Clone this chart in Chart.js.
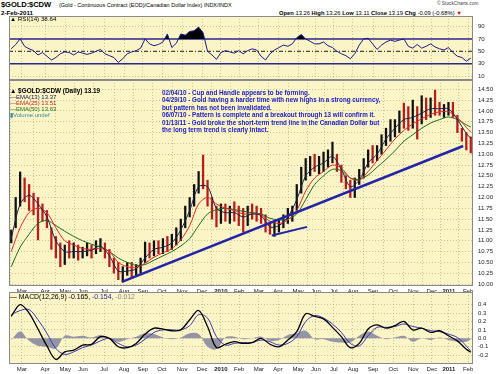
<!DOCTYPE html>
<html>
<head>
<meta charset="utf-8">
<script src="https://cdn.jsdelivr.net/npm/chart.js@4.4.1/dist/chart.umd.min.js"></script>
<style>
  body { margin: 0; background: #fff; width: 500px; height: 374px; overflow: hidden; position: relative; font-family: "Liberation Sans", Arial, sans-serif; }
  canvas { position: absolute; left: 0; }
  .t { position: absolute; white-space: nowrap; line-height: 1; }
  .b { font-weight: bold; }
</style>
</head>
<body>
<div class="t b" style="left:1px;top:1px;font-size:7.6px;letter-spacing:-0.1px;">$GOLD:$CDW</div>
<div class="t" style="left:59px;top:2.5px;font-size:5.5px;">(Gold - Continuous Contract (EOD)/Canadian Dollar Index) INDX/INDX</div>
<div class="t b" style="left:1px;top:10px;font-size:6.2px;">2-Feb-2011</div>
<div class="t" style="left:437px;top:2px;font-size:4.8px;color:#444;">&copy; StockCharts.com</div>
<div class="t" style="left:279px;top:10.5px;font-size:5.8px;"><b>Open</b> 13.26 <b>High</b> 13.26 <b>Low</b> 13.11 <b>Close</b> 13.19 <b>Chg</b> -0.09 (-0.68%) <span style="color:#c00">&#9660;</span></div>

<canvas id="rsi" width="500" height="64" style="top:16px"></canvas>
<canvas id="price" width="500" height="216" style="top:80px"></canvas>
<canvas id="macd" width="500" height="82" style="top:292px"></canvas>

<div class="t" style="left:10px;top:16px;font-size:6.2px;">&#9650; RSI(14) 38.64</div>
<div class="t b" style="left:10px;top:87.5px;font-size:6.4px;">&#9650; $GOLD:$CDW (Daily) 13.19</div>
<div class="t" style="left:10px;top:94px;font-size:6px;color:#202050;">&mdash;EMA(13) 13.37</div>
<div class="t" style="left:10px;top:100px;font-size:6px;color:#d02020;">&mdash;EMA(25) 13.51</div>
<div class="t" style="left:10px;top:106px;font-size:6px;color:#207020;">&mdash;EMA(50) 13.63</div>
<div class="t" style="left:10px;top:112px;font-size:6px;color:#3a8a9a;">&#9646;Volume undef</div>
<div class="t b" style="left:162px;top:88.5px;font-size:6.3px;color:#1a1ac8;line-height:7.6px;">
02/04/10 - Cup and Handle appears to be forming.<br>
04/29/10 - Gold having a harder time with new highs in a strong currency,<br>
but pattern has not been invalidated.<br>
06/07/10 - Pattern is complete and a breakout through 13 will confirm it.<br>
01/13/11 - Gold broke the short-term trend line in the Canadian Dollar but<br>
the long term trend is clearly intact.
</div>
<div class="t" style="left:10px;top:294px;font-size:6.9px;">&mdash; MACD(12,26,9) -0.165, <span style="color:#2a2aa0">-0.154,</span> <span style="color:#888">-0.012</span></div>

<script>
// x axis: weeks from mid-Feb 2009 (0) to early Feb 2011 (104)
const monthWeeks = [2.9, 8.1, 12.6, 16.6, 21.3, 25.8, 30.0, 34.3, 38.8, 43.3, 47.5, 51.6,
  56.0, 60.3, 64.8, 68.8, 72.8, 77.1, 81.6, 86.1, 90.6, 94.8, 98.6, 102.9];
const monthLabels = ["Mar", "Apr", "May", "Jun", "Jul", "Aug", "Sep", "Oct", "Nov", "Dec", "2010", "Feb",
  "Mar", "Apr", "May", "Jun", "Jul", "Aug", "Sep", "Oct", "Nov", "Dec", "2011", "Feb"];

// weekly price bars
const high = [
  11.25, 12.0, 12.59, 12.45, 12.3, 12.1, 12.0, 11.85, 11.7, 11.3,
  11.1, 10.95, 10.9, 11.0, 10.95, 10.9, 10.85, 10.95, 10.9, 11.0,
  11.05, 10.95, 10.8, 10.6, 10.5, 10.4, 10.5, 10.5, 10.45, 10.6,
  10.97, 10.95, 11.0, 11.0, 11.05, 11.1, 11.15, 11.3, 11.5, 11.8,
  12.0, 12.3, 12.6, 12.98, 12.4, 12.0, 11.8, 11.85, 11.85, 11.8,
  11.9, 11.8, 11.75, 11.8, 11.85, 11.8, 11.75, 11.6, 11.4, 11.45,
  11.5, 11.6, 11.75, 11.8, 12.3, 12.7, 12.9, 12.95, 13.0, 12.95,
  13.05, 13.1, 13.28, 13.0, 12.75, 12.5, 12.4, 12.45, 12.65, 12.9,
  13.1, 13.2, 13.2, 13.45, 13.6, 13.8, 13.8, 14.0, 14.18, 14.1,
  14.25, 14.1, 14.35, 14.3, 14.3, 14.48, 14.2, 14.15, 14.2, 14.2,
  13.9, 13.6, 13.5, 13.4];
const low = [
  10.95, 11.3, 11.8, 11.9, 11.7, 11.6, 11.02, 11.45, 11.3, 10.8,
  10.6, 10.4, 10.45, 10.6, 10.6, 10.55, 10.6, 10.65, 10.6, 10.7,
  10.75, 10.6, 10.4, 10.25, 10.1, 10.05, 10.2, 10.15, 10.2, 10.25,
  10.5, 10.6, 10.65, 10.7, 10.7, 10.75, 10.8, 10.9, 11.0, 11.3,
  11.55, 11.8, 12.1, 12.2, 11.8, 11.5, 11.32, 11.4, 11.45, 11.4,
  11.45, 11.35, 11.2, 11.35, 11.5, 11.45, 11.4, 11.2, 11.15, 11.1,
  11.2, 11.3, 11.4, 11.45, 11.7, 12.1, 12.4, 12.5, 12.6, 12.55,
  12.6, 12.7, 12.8, 12.6, 12.35, 12.2, 12.0, 12.0, 12.3, 12.45,
  12.7, 12.8, 12.85, 13.0, 13.2, 13.3, 13.4, 13.5, 13.6, 13.55,
  13.6, 13.35, 13.7, 13.8, 13.85, 13.9, 13.9, 13.85, 13.9, 13.85,
  13.5, 13.3, 13.1, 13.03];
const close = [
  11.2, 11.9, 12.3, 12.0, 11.9, 11.8, 11.7, 11.6, 11.4, 10.9,
  10.8, 10.5, 10.8, 10.7, 10.8, 10.7, 10.75, 10.8, 10.75, 10.9,
  10.9, 10.7, 10.5, 10.4, 10.2, 10.3, 10.4, 10.3, 10.4, 10.5,
  10.85, 10.8, 10.9, 10.8, 10.95, 10.9, 11.05, 11.2, 11.4, 11.7,
  11.9, 12.2, 12.5, 12.4, 11.9, 11.6, 11.5, 11.7, 11.6, 11.7,
  11.6, 11.5, 11.4, 11.7, 11.65, 11.6, 11.5, 11.3, 11.25, 11.3,
  11.4, 11.5, 11.6, 11.75, 12.2, 12.6, 12.7, 12.8, 12.7, 12.8,
  12.9, 13.0, 13.1, 12.7, 12.5, 12.3, 12.1, 12.35, 12.55, 12.8,
  13.0, 12.9, 13.1, 13.35, 13.5, 13.6, 13.7, 13.9, 13.8, 13.7,
  13.9, 13.6, 14.1, 14.0, 14.1, 14.05, 14.0, 14.0, 14.1, 13.9,
  13.6, 13.4, 13.3, 13.19];

// moving averages and MACD, sampled every second week
const lineWeeks = [0, 2, 4, 6, 8, 10, 12, 14, 16, 18, 20, 22, 24, 26, 28, 30, 32, 34, 36, 38,
  40, 42, 44, 46, 48, 50, 52, 54, 56, 58, 60, 62, 64, 66, 68, 70, 72, 74, 76, 78,
  80, 82, 84, 86, 88, 90, 92, 94, 96, 98, 100, 102, 103];
const ema13 = [11.05, 11.85, 12.05, 11.85, 11.55, 11.00, 10.75, 10.75, 10.75, 10.78,
  10.88, 10.65, 10.30, 10.30, 10.35, 10.60, 10.80, 10.85, 10.95, 11.25,
  11.70, 12.25, 12.25, 11.75, 11.65, 11.65, 11.55, 11.62, 11.58, 11.32,
  11.35, 11.55, 11.95, 12.50, 12.70, 12.80, 12.95, 12.65, 12.25, 12.40,
  12.80, 13.00, 13.35, 13.60, 13.80, 13.85, 13.95, 14.05, 14.05, 14.05,
  13.80, 13.48, 13.37];
const ema25 = [10.75, 11.30, 11.65, 11.75, 11.65, 11.30, 11.00, 10.90, 10.82, 10.80,
  10.82, 10.75, 10.50, 10.40, 10.38, 10.48, 10.62, 10.72, 10.82, 11.02,
  11.35, 11.85, 12.00, 11.85, 11.75, 11.70, 11.62, 11.62, 11.60, 11.45,
  11.40, 11.48, 11.70, 12.15, 12.45, 12.60, 12.75, 12.68, 12.45, 12.40,
  12.60, 12.85, 13.10, 13.35, 13.55, 13.70, 13.82, 13.92, 13.98, 13.98,
  13.85, 13.62, 13.51];
const ema50 = [10.40, 10.85, 11.15, 11.40, 11.47, 11.35, 11.22, 11.10, 11.00, 10.92,
  10.85, 10.75, 10.60, 10.50, 10.43, 10.45, 10.55, 10.65, 10.75, 10.88,
  11.05, 11.35, 11.62, 11.72, 11.75, 11.72, 11.68, 11.65, 11.62, 11.52,
  11.48, 11.50, 11.62, 11.95, 12.30, 12.50, 12.65, 12.62, 12.45, 12.42,
  12.52, 12.70, 12.88, 13.08, 13.30, 13.45, 13.60, 13.72, 13.80, 13.86,
  13.80, 13.68, 13.63];
const macd = [0.26, 0.40, 0.30, 0.11, -0.09, -0.25, -0.16, -0.14, -0.08, -0.07,
  0.02, 0.00, -0.10, -0.11, -0.06, 0.05, 0.12, 0.11, 0.09, 0.10,
  0.22, 0.33, 0.14, -0.11, -0.07, -0.04, -0.06, -0.05, 0.00, -0.07,
  -0.10, -0.02, 0.08, 0.29, 0.26, 0.23, 0.13, 0.02, -0.11, -0.06,
  0.11, 0.16, 0.12, 0.15, 0.20, 0.10, 0.12, 0.07, 0.09, 0.03,
  -0.03, -0.13, -0.165];
const signal = [0.28, 0.33, 0.34, 0.22, 0.06, -0.12, -0.19, -0.16, -0.11, -0.08,
  -0.03, 0.00, -0.06, -0.10, -0.08, -0.01, 0.07, 0.10, 0.10, 0.10,
  0.15, 0.28, 0.24, 0.02, -0.08, -0.06, -0.05, -0.05, -0.02, -0.04,
  -0.08, -0.06, 0.02, 0.20, 0.27, 0.24, 0.17, 0.07, -0.06, -0.09,
  0.03, 0.13, 0.13, 0.14, 0.17, 0.14, 0.12, 0.09, 0.08, 0.05,
  0.01, -0.09, -0.154];
const hist = [-0.02, 0.08, -0.03, -0.09, -0.10, -0.12, 0.03, 0.02, 0.03, 0.01,
  0.04, 0.00, -0.04, -0.01, 0.02, 0.06, 0.05, 0.01, -0.01, 0.01,
  0.06, 0.05, -0.10, -0.13, 0.01, 0.02, -0.01, 0.00, 0.02, -0.03,
  -0.02, 0.04, 0.06, 0.09, -0.01, -0.01, -0.04, -0.05, -0.05, 0.03,
  0.08, 0.03, -0.01, 0.01, 0.03, -0.04, 0.00, -0.02, 0.01, -0.02,
  -0.04, -0.04, -0.012];

// weekly RSI(14)
const rsi = [
  54, 61, 70, 58, 54, 51, 44, 48, 42, 36,
  40, 46, 49, 48, 44, 49, 47, 45, 47, 50,
  53, 46, 43, 40, 32, 38, 46, 49, 51, 55,
  70, 62, 59, 61, 65, 78, 56, 63, 78, 76,
  82, 83, 89, 80, 50, 44, 37, 48, 51, 49,
  47, 51, 46, 51, 54, 52, 42, 36, 46, 52,
  56, 60, 58, 62, 72, 77, 70, 66, 62, 62,
  65, 59, 56, 50, 46, 43, 38, 46, 60, 70,
  71, 62, 53, 60, 65, 68, 66, 68, 70, 58,
  55, 61, 55, 58, 62, 57, 54, 52, 56, 48,
  42, 40, 34, 39];

// hand-drawn trend lines
const trendLongWeeks = [25.3, 101.8];
const trendLongValues = [10.05, 13.19];
const trendShortWeeks = [58.9, 66.8];
const trendShortValues = [11.12, 11.32];

const priceTicks = [10, 10.25, 10.5, 10.75, 11, 11.25, 11.5, 11.75, 12, 12.25, 12.5, 12.75,
  13, 13.25, 13.5, 13.75, 14, 14.25, 14.5];
const rsiTicks = [10, 30, 50, 70, 90];
const macdTicks = [-0.2, -0.1, 0, 0.1, 0.2, 0.3, 0.4];

const FONT = "'Liberation Sans', Arial, sans-serif";
const gridColor = "rgba(165,155,105,0.55)";

const panelBg = {
  id: "panelBg",
  beforeDraw(chart) {
    const { ctx, chartArea: a } = chart;
    ctx.save();
    ctx.fillStyle = "#faf4c6";
    ctx.fillRect(a.left, a.top, a.width, a.height);
    ctx.restore();
  },
  afterDraw(chart) {
    const { ctx, chartArea: a } = chart;
    ctx.save();
    ctx.strokeStyle = "#8a8a8a";
    ctx.lineWidth = 1;
    ctx.strokeRect(a.left + 0.5, a.top + 0.5, a.width - 1, a.height - 1);
    ctx.restore();
  },
};

const rsiLevels = {
  id: "rsiLevels",
  beforeDatasetsDraw(chart) {
    const { ctx, chartArea: a, scales } = chart;
    const y = scales.y;
    ctx.save();
    ctx.strokeStyle = "#2a2a8c";
    ctx.lineWidth = 1.5;
    [70, 30].forEach((v) => {
      const py = y.getPixelForValue(v);
      ctx.beginPath();
      ctx.moveTo(a.left, py);
      ctx.lineTo(a.right, py);
      ctx.stroke();
    });
    ctx.strokeStyle = "#222";
    ctx.lineWidth = 1;
    ctx.setLineDash([4, 2, 1, 2]);
    const p50 = y.getPixelForValue(50);
    ctx.beginPath();
    ctx.moveTo(a.left, p50);
    ctx.lineTo(a.right, p50);
    ctx.stroke();
    ctx.restore();
  },
};

function xScale(showLabels) {
  return {
    type: "linear",
    min: 0,
    max: 104,
    offset: false,
    afterBuildTicks: (s) => { s.ticks = monthWeeks.map((v) => ({ value: v })); },
    afterFit: (s) => {
      s.height = showLabels ? 10 : 0;
      s.paddingLeft = 0;
      s.paddingRight = 0;
    },
    grid: { color: gridColor, drawTicks: false, lineWidth: 1 },
    border: { display: false, dash: [1, 2] },
    ticks: {
      display: showLabels,
      autoSkip: false,
      maxRotation: 0,
      padding: 2,
      color: "#222",
      font: (c) => ({ family: FONT, size: 6, weight: monthLabels[c.index] && monthLabels[c.index].length === 4 ? "bold" : "normal" }),
      callback: (v, i) => monthLabels[i],
    },
  };
}

function yScale(min, max, ticks, digits) {
  return {
    type: "linear",
    position: "right",
    min: min,
    max: max,
    afterBuildTicks: (s) => { s.ticks = ticks.map((v) => ({ value: v })); },
    afterFit: (s) => {
      s.width = 27;
      s.paddingTop = 0;
      s.paddingBottom = 0;
    },
    grid: { color: gridColor, drawTicks: false },
    border: { display: false, dash: [1, 2] },
    ticks: {
      padding: 5,
      color: "#222",
      font: { family: FONT, size: 6 },
      callback: (v) => v.toFixed(digits),
    },
  };
}

const baseOptions = {
  responsive: false,
  animation: false,
  maintainAspectRatio: false,
  layout: { padding: { left: 9, right: 0, top: 0, bottom: 0 } },
  plugins: { legend: { display: false }, tooltip: { enabled: false } },
  elements: { point: { radius: 0 } },
};

const pts = (xs, ys) => xs.map((x, k) => ({ x: x + 0.5, y: ys[k] }));
const linePts = (xs, ys) => xs.map((x, k) => ({ x: x, y: ys[k] }));

new Chart(document.getElementById("rsi"), {
  type: "line",
  data: {
    datasets: [{
      data: rsi.map((v, k) => ({ x: k + 0.5, y: v })),
      borderColor: "#1c1c8c",
      borderWidth: 1,
      tension: 0,
      fill: { target: { value: 70 }, above: "#000", below: "rgba(0,0,0,0)" },
    }],
  },
  options: { ...baseOptions, scales: { x: xScale(false), y: yScale(3.7, 106.9, rsiTicks, 0) } },
  plugins: [panelBg, rsiLevels],
});

new Chart(document.getElementById("price"), {
  type: "bar",
  data: {
    datasets: [
      { type: "line", data: linePts(trendLongWeeks, trendLongValues), borderColor: "#2424a8", borderWidth: 2.5 },
      { type: "line", data: linePts(trendShortWeeks, trendShortValues), borderColor: "#2424a8", borderWidth: 2 },
      { type: "line", data: pts(lineWeeks, ema13), borderColor: "#202050", borderWidth: 1, tension: 0.3 },
      { type: "line", data: pts(lineWeeks, ema25), borderColor: "#e02a2a", borderWidth: 1, tension: 0.3 },
      { type: "line", data: pts(lineWeeks, ema50), borderColor: "#1f6e1f", borderWidth: 1, tension: 0.3 },
      {
        type: "bar",
        data: high.map((h, k) => ({ x: k + 0.5, y: [low[k], h] })),
        backgroundColor: close.map((c, k) => (k > 0 && c < close[k - 1] ? "#b81c1c" : "#111")),
        barThickness: 1.6,
        grouped: false,
      },
    ],
  },
  options: { ...baseOptions, scales: { x: xScale(true), y: yScale(9.954, 14.715, priceTicks, 2) } },
  plugins: [panelBg],
});

new Chart(document.getElementById("macd"), {
  type: "line",
  data: {
    datasets: [
      { data: pts(lineWeeks, macd), borderColor: "#000", borderWidth: 1.3, tension: 0.35 },
      { data: pts(lineWeeks, signal), borderColor: "#3a3ab8", borderWidth: 1, tension: 0.35 },
      {
        data: pts(lineWeeks, hist),
        borderWidth: 0,
        tension: 0.35,
        fill: { target: "origin", above: "#9494a4", below: "#9494a4" },
      },
    ],
  },
  options: { ...baseOptions, scales: { x: xScale(true), y: yScale(-0.304, 0.549, macdTicks, 1) } },
  plugins: [panelBg],
});
</script>
</body>
</html>
